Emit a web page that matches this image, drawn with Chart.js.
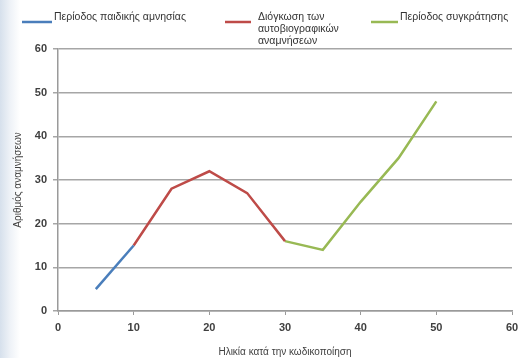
<!DOCTYPE html>
<html lang="el">
<head>
<meta charset="UTF-8">
<script src="https://cdn.jsdelivr.net/npm/chart.js"></script>
<style>
  html, body { margin: 0; padding: 0; }
  body {
    width: 518px; height: 358px; overflow: hidden;
    background: linear-gradient(to right, #d6e0ec 0px, #eef2f7 10px, #ffffff 20px);
  }
  #wrap { position: relative; width: 518px; height: 358px; }
</style>
</head>
<body>
<div id="wrap"><canvas id="chart" width="518" height="358"></canvas></div>
<script>
// δεδομένα
var seriesNames = ['Περίοδος παιδικής αμνησίας', ['Διόγκωση των', 'αυτοβιογραφικών', 'αναμνήσεων'], 'Περίοδος συγκράτησης'];
var amnesiaAge = [5, 10];
var amnesiaCount = [5, 15];
var bumpAge = [10, 15, 20, 25, 30];
var bumpCount = [15, 28, 32, 27, 16];
var retentionAge = [30, 35, 40, 45, 50];
var retentionCount = [16, 14, 25, 35, 48];
var xTicks = [0, 10, 20, 30, 40, 50, 60];
var yTicks = [0, 10, 20, 30, 40, 50, 60];
var xTitle = 'Ηλικία κατά την κωδικοποίηση';
var yTitle = 'Αριθμός αναμνήσεων';

var colors = ['#4a7ebb', '#be4b48', '#98b954'];
var FONT = '"Liberation Sans", Arial, sans-serif';

function points(xs, ys) {
    return xs.map(function (x, i) { return { x: x, y: ys[i] }; });
}

// legend drawn by hand, the middle label wraps on 3 lines
var legendPlugin = {
    id: 'handLegend',
    afterDraw: function (chart) {
        var ctx = chart.ctx;
        var items = [
            { x1: 22, x2: 52, tx: 54 },
            { x1: 225, x2: 251, tx: 258 },
            { x1: 371, x2: 398, tx: 400 }
        ];
        ctx.save();
        ctx.font = '10.5px ' + FONT;
        ctx.fillStyle = '#333333';
        ctx.textBaseline = 'middle';
        items.forEach(function (it, i) {
            ctx.strokeStyle = colors[i];
            ctx.lineWidth = 2.5;
            ctx.beginPath();
            ctx.moveTo(it.x1, 22);
            ctx.lineTo(it.x2, 22);
            ctx.stroke();
            var lines = Array.isArray(seriesNames[i]) ? seriesNames[i] : [seriesNames[i]];
            lines.forEach(function (t, k) {
                ctx.fillText(t, it.tx, 17 + k * 12);
            });
        });
        ctx.restore();
    }
};

var ctx = document.getElementById('chart').getContext('2d');
var chart = new Chart(ctx, {
    type: 'line',
    data: {
        datasets: [
            { label: 'amnesia', data: points(amnesiaAge, amnesiaCount), borderColor: colors[0] },
            { label: 'bump', data: points(bumpAge, bumpCount), borderColor: colors[1] },
            { label: 'retention', data: points(retentionAge, retentionCount), borderColor: colors[2] }
        ]
    },
    options: {
        responsive: false,
        animation: false,
        devicePixelRatio: 1,
        elements: {
            line: { borderWidth: 2.5, tension: 0, fill: false },
            point: { radius: 0 }
        },
        layout: { padding: { top: 49, right: 6, left: 0, bottom: 0 } },
        plugins: {
            legend: { display: false },
            tooltip: { enabled: false }
        },
        scales: {
            x: {
                type: 'linear',
                min: 0, max: 60,
                afterBuildTicks: function (s) { s.ticks = xTicks.map(function (v) { return { value: v }; }); },
                afterFit: function (s) { s.height = 47; s.paddingRight = 0; },
                grid: { display: true, drawOnChartArea: false, drawTicks: true, tickLength: 4, color: '#9a9a9a', lineWidth: 1 },
                border: { display: true, color: '#9a9a9a', width: 1.5 },
                ticks: { color: '#404040', font: { family: FONT, size: 11, weight: 'bold' }, padding: 6, maxRotation: 0 },
                title: { display: true, text: xTitle, color: '#404040', font: { family: FONT, size: 10 }, padding: { top: 2, bottom: 0 } }
            },
            y: {
                min: 0, max: 60,
                afterBuildTicks: function (s) { s.ticks = yTicks.map(function (v) { return { value: v }; }); },
                afterFit: function (s) { s.width = 58; },
                grid: { color: '#a6a6a6', lineWidth: 1.5, drawTicks: true, tickLength: 5 },
                border: { display: true, color: '#9a9a9a', width: 1.5 },
                ticks: { color: '#404040', font: { family: FONT, size: 11, weight: 'bold' }, padding: 6 },
                title: { display: true, text: yTitle, color: '#404040', font: { family: FONT, size: 10 }, padding: { top: 12, bottom: 4 } }
            }
        }
    },
    plugins: [legendPlugin]
});
</script>
</body>
</html>
